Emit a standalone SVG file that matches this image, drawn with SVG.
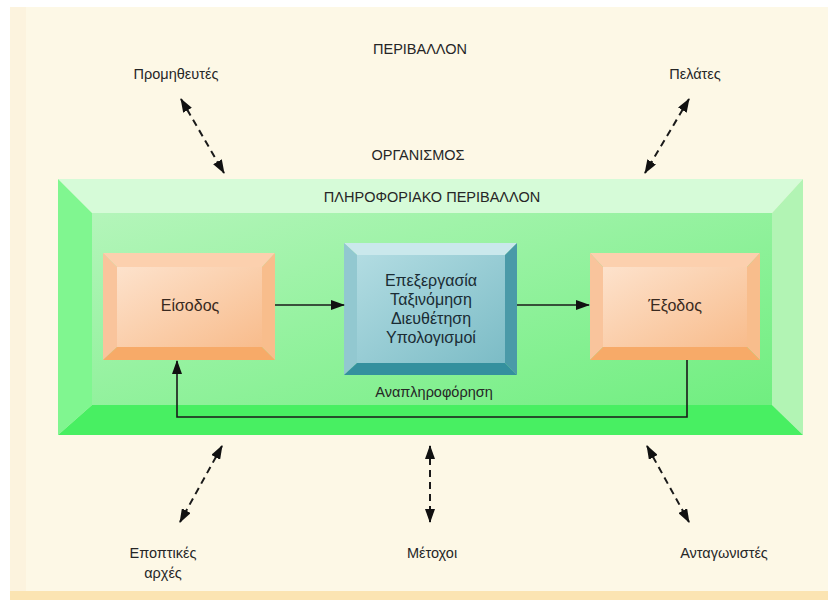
<svg xmlns="http://www.w3.org/2000/svg" width="838" height="600" viewBox="0 0 838 600">
<defs>
<style>
text{font-family:"Liberation Sans",Arial,sans-serif;fill:#262626;text-anchor:middle}
.lbl{font-size:14.5px}
.node{font-size:16px;fill:#3a2a20}
.proc{font-size:16px;fill:#1a2c34}
.dash{stroke:#1a1a1a;stroke-width:2;stroke-dasharray:7,5;fill:none;marker-start:url(#ah);marker-end:url(#ah)}
.solid{stroke:#1a1a1a;stroke-width:1.6;fill:none}
</style>
<marker id="ah" viewBox="0 0 14 10" refX="13" refY="5" markerWidth="14" markerHeight="10" markerUnits="userSpaceOnUse" orient="auto-start-reverse">
<path d="M0,0 L14,5 L0,10 z" fill="#111"/>
</marker>
<marker id="as" viewBox="0 0 14 10" refX="13" refY="5" markerWidth="14" markerHeight="10" markerUnits="userSpaceOnUse" orient="auto">
<path d="M0,0 L14,5 L0,10 z" fill="#111"/>
</marker>
<linearGradient id="gface" x1="0" y1="0" x2="1" y2="1">
<stop offset="0" stop-color="#b4f5ba"/>
<stop offset="1" stop-color="#70ee80"/>
</linearGradient>
<linearGradient id="oface" x1="0" y1="0" x2="1" y2="1">
<stop offset="0" stop-color="#fde2cc"/>
<stop offset="1" stop-color="#f8bc8c"/>
</linearGradient>
<linearGradient id="tface" x1="0" y1="0" x2="1" y2="1">
<stop offset="0" stop-color="#b2dce2"/>
<stop offset="1" stop-color="#7cbcc6"/>
</linearGradient>
</defs>

<g id="background">
<rect x="0" y="0" width="838" height="600" fill="#ffffff"/>
<rect x="10" y="7" width="818" height="593" fill="#fdf8e6"/>
<rect x="10" y="7" width="16" height="585" fill="#fcf3de"/>
<rect x="10" y="591" width="818" height="9" fill="#fbe4b2"/>
</g>

<g id="info-environment">
<polygon points="58,179 803,179 772,213 92,213" fill="#d6fbd8"/>
<polygon points="58,179 92,213 92,405 58,435" fill="#80f690"/>
<polygon points="803,179 803,435 772,405 772,213" fill="#b2f4b4"/>
<polygon points="58,435 92,405 772,405 803,435" fill="#48ef62"/>
<rect x="92" y="213" width="680" height="192" fill="url(#gface)"/>
<text class="lbl" x="432" y="202">ΠΛΗΡΟΦΟΡΙΑΚΟ ΠΕΡΙΒΑΛΛΟΝ</text>
</g>

<g id="env-title"><text class="lbl" x="420" y="54">ΠΕΡΙΒΑΛΛΟΝ</text></g>
<g id="org-title"><text class="lbl" x="418" y="160">ΟΡΓΑΝΙΣΜΟΣ</text></g>
<g id="suppliers"><text class="lbl" x="176" y="79">Προμηθευτές</text></g>
<g id="customers"><text class="lbl" x="695" y="79">Πελάτες</text></g>
<g id="regulators"><text class="lbl" x="163" y="558">Εποπτικές</text><text class="lbl" x="163" y="578">αρχές</text></g>
<g id="shareholders"><text class="lbl" x="432" y="558">Μέτοχοι</text></g>
<g id="competitors"><text class="lbl" x="724" y="558">Ανταγωνιστές</text></g>

<g id="input">
<polygon points="103,253 275,253 262,267 117,267" fill="#fcd0ae"/>
<polygon points="103,253 117,267 117,347 103,360" fill="#f9c49c"/>
<polygon points="275,253 275,360 262,347 262,267" fill="#f8bd8c"/>
<polygon points="103,360 117,347 262,347 275,360" fill="#f7aa68"/>
<rect x="117" y="267" width="145" height="80" fill="url(#oface)"/>
<text class="node" x="190" y="311">Είσοδος</text>
</g>

<g id="processing">
<polygon points="344,243 517,243 505,255 357,255" fill="#cae8ec"/>
<polygon points="344,243 357,255 357,363 344,375" fill="#92c8d0"/>
<polygon points="517,243 517,375 505,363 505,255" fill="#4a9aa8"/>
<polygon points="344,375 357,363 505,363 517,375" fill="#34909e"/>
<rect x="357" y="255" width="148" height="108" fill="url(#tface)"/>
<text class="proc" x="431" y="286">Επεξεργασία</text>
<text class="proc" x="431" y="305">Ταξινόμηση</text>
<text class="proc" x="431" y="324">Διευθέτηση</text>
<text class="proc" x="431" y="343">Υπολογισμοί</text>
</g>

<g id="output">
<polygon points="590,253 760,253 747,267 603,267" fill="#fcd0ae"/>
<polygon points="590,253 603,267 603,347 590,360" fill="#f9c49c"/>
<polygon points="760,253 760,360 747,347 747,267" fill="#f8bd8c"/>
<polygon points="590,360 603,347 747,347 760,360" fill="#f7aa68"/>
<rect x="603" y="267" width="144" height="80" fill="url(#oface)"/>
<text class="node" x="675" y="311">Έξοδος</text>
</g>

<g id="feedback-label"><text class="lbl" x="434" y="397">Αναπληροφόρηση</text></g>

<g id="connectors">
<line class="solid" x1="275" y1="305" x2="344" y2="305" marker-end="url(#as)"/>
<line class="solid" x1="517" y1="305" x2="589" y2="305" marker-end="url(#as)"/>
<polyline class="solid" points="687,360 687,417 177,417 177,361" marker-end="url(#as)"/>
<line class="dash" x1="181" y1="99" x2="224" y2="173"/>
<line class="dash" x1="689" y1="99" x2="645" y2="173"/>
<line class="dash" x1="222" y1="446" x2="180" y2="522"/>
<line class="dash" x1="430" y1="446" x2="430" y2="522"/>
<line class="dash" x1="647" y1="446" x2="689" y2="522"/>
</g>
</svg>
